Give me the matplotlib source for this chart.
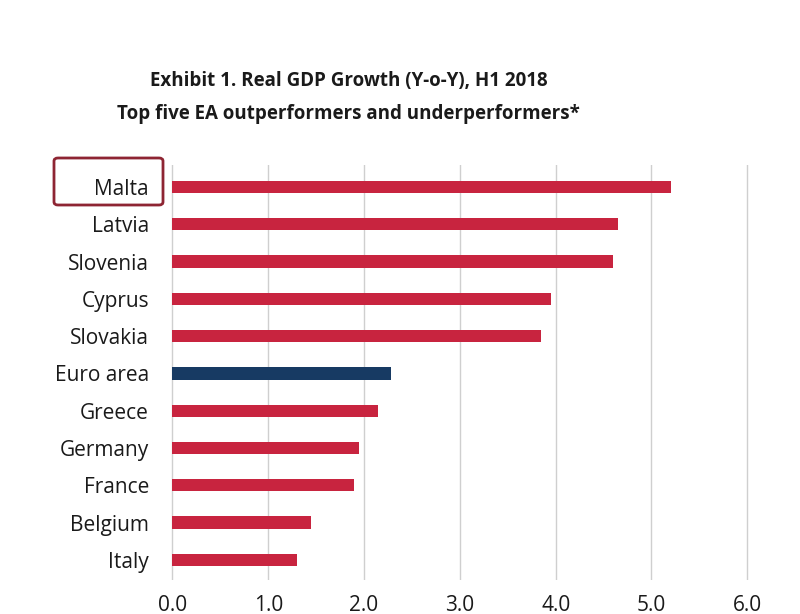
import matplotlib
matplotlib.use("Agg")
import matplotlib.pyplot as plt
from matplotlib.patches import FancyBboxPatch

# data (top to bottom as shown)
countries = ['Malta', 'Latvia', 'Slovenia', 'Cyprus', 'Slovakia', 'Euro area',
             'Greece', 'Germany', 'France', 'Belgium', 'Italy']
growth = [5.2, 4.65, 4.6, 3.95, 3.85, 2.28, 2.15, 1.95, 1.9, 1.45, 1.3]
highlight = 'Euro area'
xticks = [0.0, 1.0, 2.0, 3.0, 4.0, 5.0, 6.0]

RED = '#C8243F'
NAVY = '#173A63'

plt.rcParams['font.family'] = ['Open Sans', 'DejaVu Sans']

fig = plt.figure(figsize=(8, 6.14), dpi=100)
ax = fig.add_axes([0.2036, 0.0554, 0.7544, 0.676])

n = len(countries)
ypos = list(range(n - 1, -1, -1))
colors = [NAVY if c == highlight else RED for c in countries]
ax.barh(ypos, growth, height=0.33, color=colors, zorder=3)

ax.set_xlim(-0.1, 6.2)
ax.set_ylim(-0.54, n - 1 + 0.59)
ax.set_xticks(xticks)
ax.set_xticklabels([f"{t:.1f}" for t in xticks], fontsize=15, color='#1a1a1a')
ax.set_yticks(ypos)
ax.set_yticklabels(countries, fontsize=15, color='#1a1a1a')
ax.tick_params(axis='both', length=0)
ax.tick_params(axis='x', pad=11)
ax.tick_params(axis='y', pad=10)
for s in ax.spines.values():
    s.set_visible(False)
for t in xticks:
    ax.axvline(t, color='#CFCFCF', linewidth=1.0, zorder=1)

fig.text(0.436, 0.868, 'Exhibit 1. Real GDP Growth (Y-o-Y), H1 2018',
         ha='center', va='center', fontsize=13.5, fontweight='bold', color='#1a1a1a')
fig.text(0.436, 0.815, 'Top five EA outperformers and underperformers*',
         ha='center', va='center', fontsize=13.5, fontweight='bold', color='#1a1a1a')

# red frame around Malta label
box = FancyBboxPatch((54 / 800, 1 - 205 / 614), 109 / 800, 47 / 614,
                     boxstyle='round,pad=0,rounding_size=0.005',
                     transform=fig.transFigure, fill=False,
                     edgecolor='#8E2533', linewidth=2)
fig.patches.append(box)

fig.savefig('out.png', dpi=100)
